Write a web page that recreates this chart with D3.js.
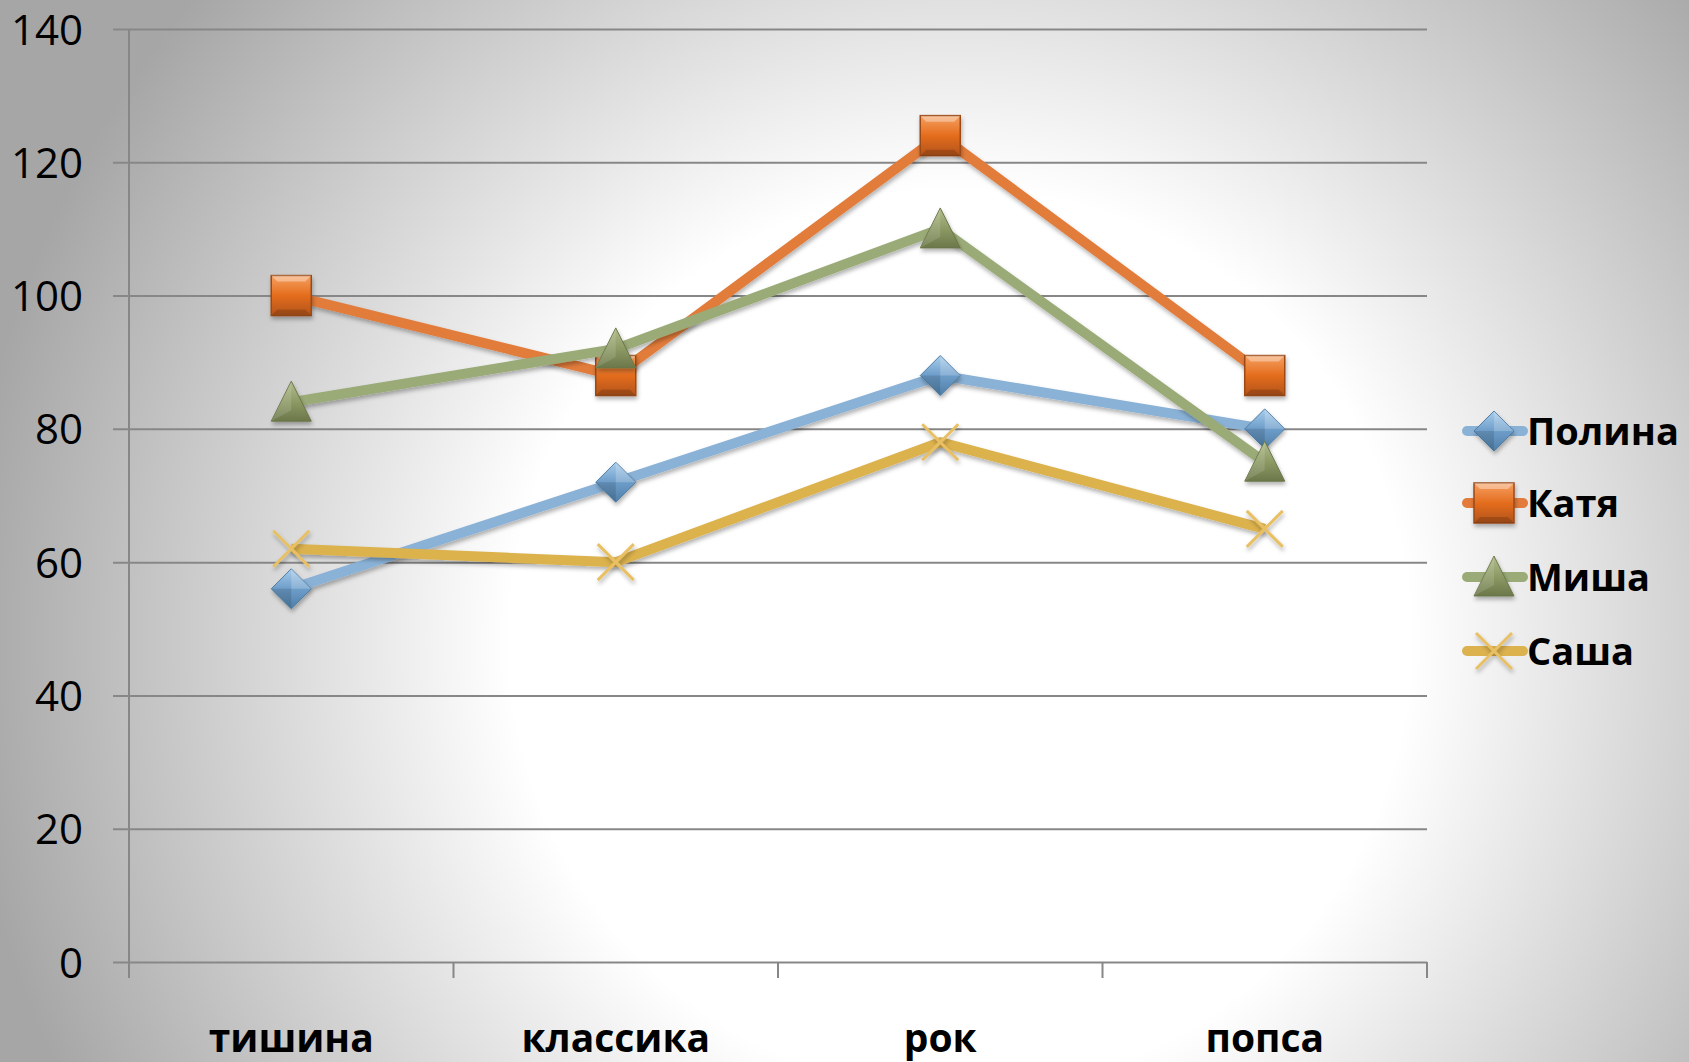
<!DOCTYPE html>
<html>
<head>
<meta charset="utf-8">
<script src="https://cdn.jsdelivr.net/npm/d3@7"></script>
<style>
  body { margin: 0; padding: 0; overflow: hidden; }
  text { font-family: "Open Sans", "Noto Sans", sans-serif; }
</style>
</head>
<body>
<script>
// Chart data
var categories   = ["тишина", "классика", "рок", "попса"];
var series_names = ["Полина", "Катя", "Миша", "Саша"];
var polina = [56, 72, 88, 80];
var katya  = [100, 88, 124, 88];
var misha  = [84, 92, 110, 75];
var sasha  = [62, 60, 78, 65];
var y_ticks = [0, 20, 40, 60, 80, 100, 120, 140];

var series_values = [polina, katya, misha, sasha];
var series_colors = ["#8ab2d7", "#e27b3b", "#9bab78", "#dcb24e"];
var marker_types  = ["diamond", "square", "triangle", "cross"];

var width  = 1689;
var height = 1062;

var plot_left   = 129;
var plot_right  = 1427;
var plot_top    = 29;
var plot_bottom = 962;

var svg = d3.select("body").append("svg")
    .attr("width", width)
    .attr("height", height);

var defs = svg.append("defs");

// Background: white glow in the middle, grey towards the edges
var bg = defs.append("radialGradient")
    .attr("id", "bg")
    .attr("gradientUnits", "userSpaceOnUse")
    .attr("cx", 960).attr("cy", 640).attr("r", 1000);
bg.append("stop").attr("offset", "0").attr("stop-color", "#ffffff");
bg.append("stop").attr("offset", "0.45").attr("stop-color", "#ffffff");
bg.append("stop").attr("offset", "1").attr("stop-color", "#a6a6a6");

svg.append("rect")
    .attr("width", width)
    .attr("height", height)
    .attr("fill", "url(#bg)");

// Soft shadow for lines and markers
var shadow = defs.append("filter")
    .attr("id", "shadow")
    .attr("x", "-50%").attr("y", "-50%")
    .attr("width", "200%").attr("height", "200%");
shadow.append("feDropShadow")
    .attr("dx", 1).attr("dy", 3)
    .attr("stdDeviation", 2)
    .attr("flood-color", "#000")
    .attr("flood-opacity", 0.3);

// Marker gradients (light top, darker bottom)
var marker_fills = [
    ["#a9cdec", "#6d9dc9", "#4f7fa8"],
    ["#f6a061", "#e46d1e", "#b2531a"],
    ["#b2bd8c", "#8e9b66", "#6b7749"],
    ["#f0cf78", "#e2b44a", "#c0943a"]
];
marker_fills.forEach(function (c, i) {
    var g = defs.append("linearGradient")
        .attr("id", "mfill" + i)
        .attr("x1", 0).attr("y1", 0).attr("x2", 0).attr("y2", 1);
    g.append("stop").attr("offset", "0").attr("stop-color", c[0]);
    g.append("stop").attr("offset", "0.5").attr("stop-color", c[1]);
    g.append("stop").attr("offset", "1").attr("stop-color", c[2]);
});

// Scales
var x = d3.scaleBand()
    .domain(categories)
    .range([plot_left, plot_right]);

var y = d3.scaleLinear()
    .domain([0, 140])
    .range([plot_bottom, plot_top]);

// Y axis with gridlines
var y_axis = svg.append("g")
    .attr("transform", "translate(" + plot_left + ",0)")
    .call(d3.axisLeft(y).tickValues(y_ticks).tickSize(0).tickPadding(46));
y_axis.select(".domain").remove();
y_axis.selectAll(".tick line")
    .attr("x1", -16)
    .attr("x2", plot_right - plot_left)
    .attr("stroke", "#878787")
    .attr("stroke-width", 2);
y_axis.selectAll(".tick text")
    .attr("fill", "#000")
    .style("font-size", "42px")
    .attr("dy", "0.36em");

// Vertical axis line
svg.append("line")
    .attr("x1", plot_left).attr("x2", plot_left)
    .attr("y1", plot_top).attr("y2", plot_bottom + 16)
    .attr("stroke", "#878787")
    .attr("stroke-width", 2);

// X axis labels
var x_axis = svg.append("g")
    .attr("transform", "translate(0," + plot_bottom + ")")
    .call(d3.axisBottom(x).tickSize(0));
x_axis.select(".domain").remove();
x_axis.selectAll(".tick text")
    .attr("fill", "#000")
    .attr("y", 90)
    .attr("dy", 0)
    .style("font-size", "39px")
    .style("font-weight", "bold");

// Category boundary ticks
var boundaries = categories.map(function (c) { return x(c); }).concat([plot_right]);
svg.selectAll(".cat-tick")
    .data(boundaries.slice(1))
    .enter()
    .append("line")
    .attr("class", "cat-tick")
    .attr("x1", function (d) { return d; })
    .attr("x2", function (d) { return d; })
    .attr("y1", plot_bottom)
    .attr("y2", plot_bottom + 16)
    .attr("stroke", "#878787")
    .attr("stroke-width", 2);

// Marker drawing
function draw_marker(g, type, i, cx, cy) {
    var m = g.append("g")
        .attr("transform", "translate(" + cx + "," + cy + ")")
        .attr("filter", "url(#shadow)");
    if (type == "diamond") {
        m.append("path")
            .attr("d", "M0,-20L20,0L0,20L-20,0Z")
            .attr("fill", "url(#mfill" + i + ")")
            .attr("stroke", "#4f7fa8")
            .attr("stroke-width", 1);
        m.append("path")
            .attr("d", "M0,-20L20,0L0,0Z")
            .attr("fill", "#ffffff")
            .attr("opacity", 0.2);
        m.append("path")
            .attr("d", "M0,20L-20,0L0,0Z")
            .attr("fill", "#000")
            .attr("opacity", 0.12);
    } else if (type == "square") {
        m.append("rect")
            .attr("x", -20).attr("y", -20)
            .attr("width", 40).attr("height", 40)
            .attr("fill", "url(#mfill" + i + ")")
            .attr("stroke", "#9c4a17")
            .attr("stroke-width", 1.5);
        m.append("path")
            .attr("d", "M-20,-20L20,-20L14,-14L-14,-14Z")
            .attr("fill", "#ffffff")
            .attr("opacity", 0.35);
        m.append("path")
            .attr("d", "M-20,20L20,20L14,14L-14,14Z")
            .attr("fill", "#000")
            .attr("opacity", 0.15);
    } else if (type == "triangle") {
        m.append("path")
            .attr("d", "M0,-21L20,19L-20,19Z")
            .attr("fill", "url(#mfill" + i + ")")
            .attr("stroke", "#6b7749")
            .attr("stroke-width", 1);
        m.append("path")
            .attr("d", "M0,-21L0,8L-20,19Z")
            .attr("fill", "#ffffff")
            .attr("opacity", 0.12);
    } else {
        m.append("path")
            .attr("d", "M-18,-18L18,18M18,-18L-18,18")
            .attr("stroke", "#e8c064")
            .attr("stroke-width", 3)
            .attr("fill", "none");
    }
}

// Series lines + markers, drawn in series order
var line = d3.line()
    .x(function (d, i) { return x(categories[i]) + x.bandwidth() / 2; })
    .y(function (d) { return y(d); });

for (var s = 0; s < series_values.length; s++) {
    var g = svg.append("g");
    g.append("path")
        .datum(series_values[s])
        .attr("d", line)
        .attr("fill", "none")
        .attr("stroke", series_colors[s])
        .attr("stroke-width", 10)
        .attr("stroke-linejoin", "round")
        .attr("filter", "url(#shadow)");
    for (var k = 0; k < categories.length; k++) {
        draw_marker(g, marker_types[s],
            s,
            x(categories[k]) + x.bandwidth() / 2,
            y(series_values[s][k]));
    }
}

// Legend
var legend_y = [431, 503, 577, 651];
for (var s = 0; s < series_names.length; s++) {
    var lg = svg.append("g");
    lg.append("line")
        .attr("x1", 1467).attr("x2", 1523)
        .attr("y1", legend_y[s]).attr("y2", legend_y[s])
        .attr("stroke", series_colors[s])
        .attr("stroke-width", 10)
        .attr("stroke-linecap", "round");
    draw_marker(lg, marker_types[s], s, 1494, legend_y[s]);
    lg.append("text")
        .attr("x", 1527)
        .attr("y", legend_y[s])
        .attr("dy", "0.36em")
        .style("font-size", "38px")
        .style("font-weight", "bold")
        .attr("fill", "#000")
        .text(series_names[s]);
}
</script>
</body>
</html>
